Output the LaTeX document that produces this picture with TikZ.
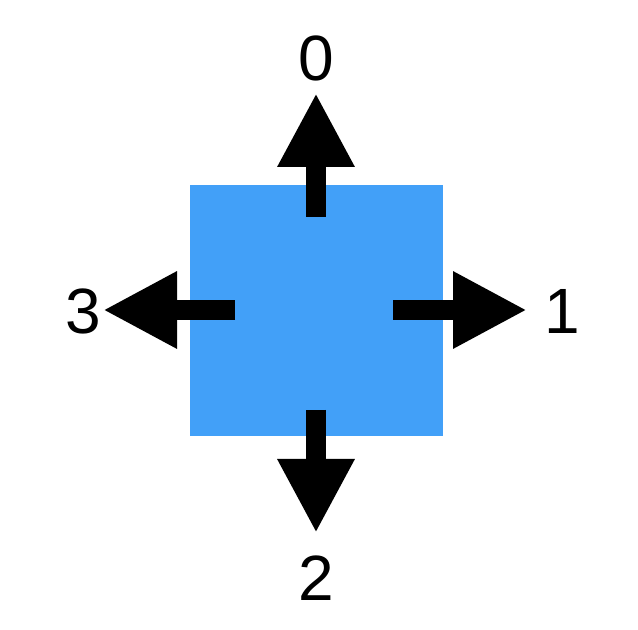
\documentclass[tikz,border=0pt]{standalone}
\usepackage{fontspec}
\setmainfont{Liberation Sans}
\usetikzlibrary{arrows.meta}
\definecolor{tileblue}{RGB}{66,160,248}
\tikzset{
  dirarrow/.style={line width=10pt, -{Triangle[length=37pt,width=36pt]}},
  dirlabel/.style={font=\fontsize{32}{38}\selectfont, inner sep=0pt}
}
\begin{document}
\begin{tikzpicture}[x=0.5pt,y=-0.5pt]
\useasboundingbox (0,0) rectangle (638,630);
\node[fill=tileblue, inner sep=0pt, minimum width=126.5pt, minimum height=125.5pt] (tile) at (316.5,310.5) {};
\coordinate (s0) at (316,217);
\coordinate (t0) at (316,93);
\coordinate (s1) at (393,310);
\coordinate (t1) at (527,310);
\coordinate (s2) at (316,410);
\coordinate (t2) at (316,533);
\coordinate (s3) at (235,310);
\coordinate (t3) at (103,310);
\node[dirlabel] (n0) at (316,58) {0};
\node[dirlabel] (n1) at (562,311) {1};
\node[dirlabel] (n2) at (316,578) {2};
\node[dirlabel] (n3) at (83,311) {3};
\draw[dirarrow] (s0) -- (t0);
\draw[dirarrow] (s1) -- (t1);
\draw[dirarrow] (s2) -- (t2);
\draw[dirarrow] (s3) -- (t3);
\end{tikzpicture}
\end{document}
